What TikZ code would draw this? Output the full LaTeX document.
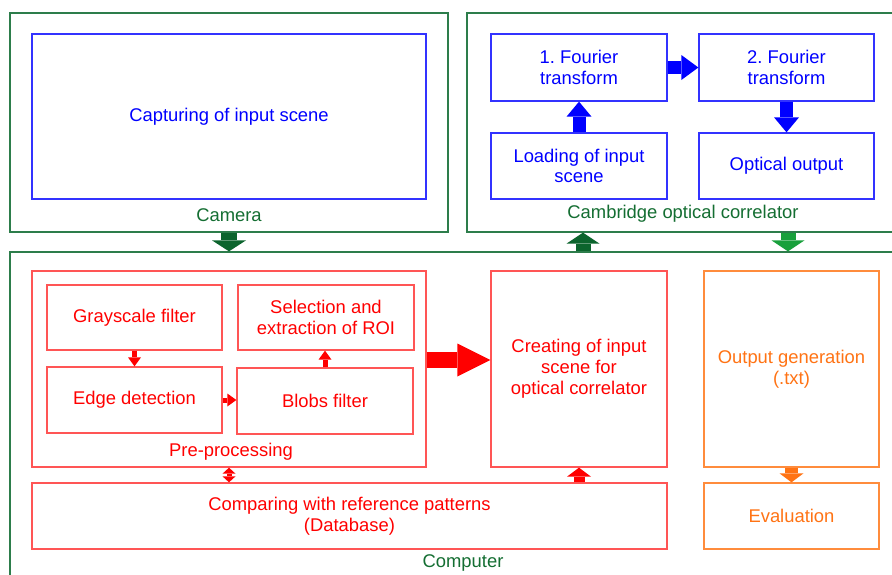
\documentclass[tikz,border=0pt]{standalone}
\usepackage{fontspec}
\setmainfont{Liberation Sans}
\usetikzlibrary{arrows.meta,calc}
\definecolor{grnborder}{RGB}{45,125,75}
\definecolor{grntext}{RGB}{20,110,50}
\definecolor{grndark}{RGB}{12,100,45}
\definecolor{grnlight}{RGB}{25,160,60}
\definecolor{bluec}{RGB}{0,0,255}
\definecolor{blueb}{RGB}{50,50,255}
\definecolor{redc}{RGB}{255,0,0}
\definecolor{redb}{RGB}{255,85,85}
\definecolor{orgc}{RGB}{255,115,20}
\definecolor{orgb}{RGB}{255,140,60}
\frenchspacing
\begin{document}
\begin{tikzpicture}[x=1pt,y=-1pt,
  txt/.style={font=\fontsize{18.4}{20.8}\selectfont, align=center, inner sep=0pt},
  container/.style={draw=grnborder, line width=1.3pt, inner sep=0pt},
  glabel/.style={txt, text=grntext},
  bluebox/.style={draw=blueb, line width=1.3pt, txt, text=bluec},
  redbox/.style={draw=redb, line width=1.3pt, txt, text=redc},
  orgbox/.style={draw=orgb, line width=1.3pt, txt, text=orgc},
  blk/.style args={#1/#2/#3}{line width=#1pt, -{Triangle[length=#3pt 0 0, width=#2pt 0 0, line width=0pt]}},
  dblk/.style args={#1/#2/#3}{line width=#1pt, {Triangle[length=#3pt 0 0, width=#2pt 0 0, line width=0pt]}-{Triangle[length=#3pt 0 0, width=#2pt 0 0, line width=0pt]}}
]
\useasboundingbox (0,0) rectangle (892,574);
\clip (0,0) rectangle (892,574);
\fill[white] (0,0) rectangle (892,574);

% containers
\node[container, minimum width=438pt, minimum height=219pt] (camera) at (229,122.5) {};
\node[container, minimum width=429pt, minimum height=219pt] (camb) at (681.5,122.5) {};
\node[container, minimum width=886pt, minimum height=338pt] (computer) at (453,421) {};

% camera
\node[bluebox, minimum width=394pt, minimum height=165pt] (capture) at (229,116.5) {Capturing of input scene};
\node[glabel] (camlabel) at (229,215) {Camera};

% cambridge
\node[bluebox, minimum width=176pt, minimum height=67pt] (f1) at (579,67.5) {1. Fourier\\transform};
\node[bluebox, minimum width=175pt, minimum height=67pt] (f2) at (786.5,67.5) {2. Fourier\\transform};
\node[bluebox, minimum width=176pt, minimum height=66pt] (load) at (579,166) {Loading of input\\scene};
\node[bluebox, minimum width=175pt, minimum height=66pt] (opt) at (786.5,166) {Optical output};
\node[glabel] (camblabel) at (683,214) {Cambridge optical correlator};

% computer
\node[redbox, minimum width=394pt, minimum height=196pt] (pre) at (229,369) {};
\node[txt, text=redc] (prelabel) at (231,452) {Pre-processing};
\node[redbox, minimum width=175pt, minimum height=65pt] (gray) at (134.5,317.5) {Grayscale filter};
\node[redbox, minimum width=176pt, minimum height=65pt] (sel) at (326,317.5) {Selection and\\extraction of ROI};
\node[redbox, minimum width=175pt, minimum height=66pt] (edge) at (134.5,400) {Edge detection};
\node[redbox, minimum width=176pt, minimum height=66pt] (blobs) at (325,401) {Blobs filter};
\node[redbox, minimum width=635pt, minimum height=66pt] (comp) at (349.5,516) {Comparing with reference patterns\\(Database)};
\node[redbox, minimum width=176pt, minimum height=196pt] (create) at (579,369) {Creating of input\\scene for\\optical correlator};
\node[orgbox, minimum width=175pt, minimum height=196pt] (outgen) at (791.5,369) {Output generation\\(.txt)};
\node[orgbox, minimum width=175pt, minimum height=66pt] (eval) at (791.5,516) {Evaluation};
\node[glabel] (complabel) at (463,563) {Computer};

% green arrows
\draw[grndark, blk=16/34/11] (camera.south) -- (camera.south |- computer.north);
\draw[grndark, blk=15/33/11] ([xshift=4pt]load.south |- computer.north) -- ([xshift=4pt]load.south |- camb.south);
\draw[grnlight, blk=15/33/11] ([xshift=1.5pt]opt.south |- camb.south) -- ([xshift=1.5pt]opt.south |- computer.north);

% blue arrows
\draw[bluec, blk=13/25/15] (load.north) -- (f1.south);
\draw[bluec, blk=13/25/17] (f1.east) -- (f2.west);
\draw[bluec, blk=13/25/15] (f2.south) -- (opt.north);

% red arrows
\draw[redc, blk=5/13/9] (gray.south) -- (edge.north);
\draw[redc, blk=5/13/9] (edge.east) -- (edge.east -| blobs.west);
\draw[redc, blk=5/13/9] (blobs.north) -- (blobs.north |- sel.south);
\draw[redc, dblk=5/13/6] (pre.south) -- (pre.south |- comp.north);
\draw[redc, blk=16/33/33] ([yshift=9pt]pre.east) -- ([yshift=9pt]create.west);
\draw[redc, blk=11/24/9] (create.south |- comp.north) -- (create.south);

% orange arrow
\draw[orgc, blk=13/24/9] (outgen.south) -- (eval.north);
\end{tikzpicture}
\end{document}
